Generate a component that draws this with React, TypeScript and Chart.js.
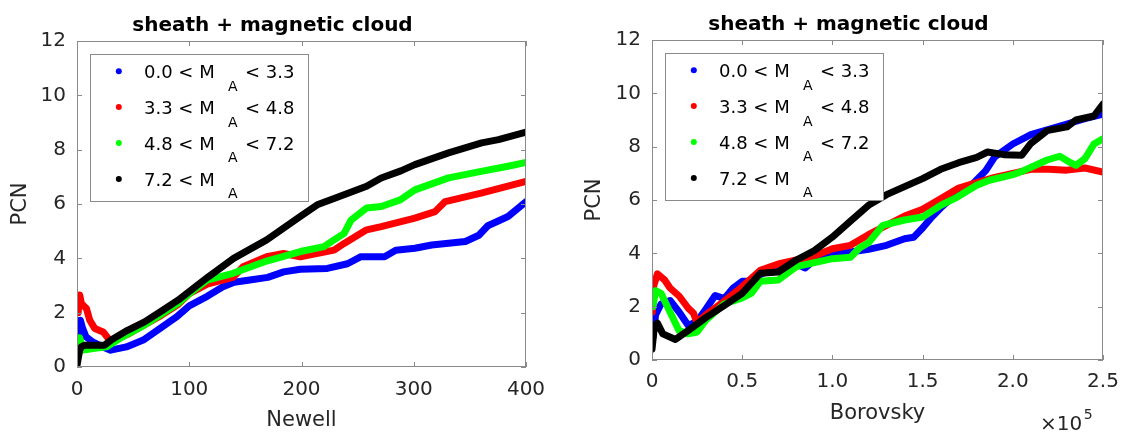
import React, { useEffect, useRef } from 'react';
import { Chart, registerables } from 'chart.js';
Chart.register(...registerables);

const FONT = '"DejaVu Sans", sans-serif';
const AXIS_COLOR = '#8a8a8a';
const TEXT_COLOR = '#262626';

const chartTitle = 'sheath + magnetic cloud';
const yAxisLabel = 'PCN';
const legendMain = ['0.0 < M', '3.3 < M', '4.8 < M', '7.2 < M'];
const legendSub = 'A';
const legendTail = ['< 3.3', '< 4.8', '< 7.2', ''];
const seriesColors = ['#0000ff', '#ff0000', '#00ff00', '#000000'];

// ---- Left panel: Newell ----
const newellBlueX = [1, 3, 5, 8, 14, 23, 30, 44, 59, 75, 89, 100, 116, 130, 140, 154, 170, 184, 199, 223, 241, 253, 274, 284, 301, 316, 346, 358, 366, 384, 400];
const newellBlueY = [1.0, 1.72, 1.42, 1.11, 0.92, 0.74, 0.62, 0.74, 0.99, 1.45, 1.85, 2.25, 2.6, 2.95, 3.12, 3.2, 3.3, 3.5, 3.6, 3.63, 3.8, 4.06, 4.06, 4.3, 4.37, 4.49, 4.62, 4.85, 5.2, 5.54, 6.08];
const newellRedX = [1, 2.4, 4, 8.4, 11.4, 15.8, 23.3, 27.8, 32, 45, 60, 75, 90, 100, 116, 139, 148, 169, 184, 199, 229, 238, 258, 271, 301, 319, 328, 360, 400];
const newellRedY = [2.0, 2.65, 2.33, 2.15, 1.72, 1.42, 1.29, 1.05, 0.95, 1.2, 1.55, 1.9, 2.3, 2.7, 3.05, 3.3, 3.69, 4.06, 4.18, 4.06, 4.3, 4.55, 5.05, 5.17, 5.48, 5.72, 6.09, 6.4, 6.83];
const newellGreenX = [0.5, 2.4, 5.4, 14.3, 26.5, 40, 60, 90, 100, 116, 139, 169, 199, 220, 229, 238, 244, 258, 271, 288, 301, 331, 360, 384, 400];
const newellGreenY = [0.4, 1.08, 0.62, 0.68, 0.74, 1.1, 1.54, 2.34, 2.7, 3.2, 3.45, 3.9, 4.25, 4.43, 4.68, 4.92, 5.4, 5.85, 5.91, 6.15, 6.52, 6.96, 7.2, 7.39, 7.53];
const newellBlackX = [0, 2.4, 3.9, 6.5, 15, 24.4, 30.4, 45, 60.2, 75, 90, 100, 117, 139.5, 169, 199, 214, 229, 258, 271, 288.5, 301, 331, 360.5, 375.5, 400];
const newellBlackY = [0.06, 0.62, 0.74, 0.8, 0.8, 0.8, 0.99, 1.35, 1.66, 2.05, 2.46, 2.78, 3.32, 4.0, 4.68, 5.54, 5.97, 6.2, 6.65, 6.96, 7.22, 7.45, 7.88, 8.25, 8.37, 8.65];

// ---- Right panel: Borovsky (x in units of 10^5) ----
const borovskyBlueX = [0.005, 0.02, 0.05, 0.1, 0.15, 0.2, 0.25, 0.3, 0.35, 0.4, 0.45, 0.5, 0.55, 0.6, 0.7, 0.8, 0.85, 0.9, 1.0, 1.1, 1.2, 1.3, 1.4, 1.45, 1.5, 1.55, 1.6, 1.7, 1.78, 1.85, 1.9, 2.0, 2.1, 2.2, 2.3, 2.4, 2.5];
const borovskyBlueY = [0.85, 1.7, 2.1, 2.23, 1.8, 1.3, 1.45, 1.92, 2.42, 2.3, 2.7, 2.95, 2.95, 3.2, 3.5, 3.6, 3.45, 3.75, 3.98, 4.05, 4.15, 4.3, 4.55, 4.6, 4.95, 5.35, 5.7, 6.3, 6.62, 7.1, 7.62, 8.1, 8.45, 8.65, 8.85, 9.05, 9.22];
const borovskyRedX = [0.002, 0.01, 0.03, 0.07, 0.1, 0.15, 0.2, 0.23, 0.25, 0.3, 0.4, 0.5, 0.6, 0.7, 0.8, 0.9, 1.0, 1.1, 1.2, 1.3, 1.4, 1.5, 1.6, 1.7, 1.8, 1.9, 2.0, 2.1, 2.2, 2.3, 2.4, 2.5];
const borovskyRedY = [1.8, 2.8, 3.23, 3.0, 2.7, 2.4, 1.95, 1.75, 1.4, 1.7, 2.2, 2.75, 3.36, 3.6, 3.75, 3.9, 4.17, 4.3, 4.7, 5.05, 5.4, 5.65, 6.05, 6.45, 6.65, 6.85, 7.0, 7.15, 7.15, 7.12, 7.2, 7.05];
const borovskyGreenX = [0.005, 0.02, 0.05, 0.1, 0.15, 0.2, 0.25, 0.3, 0.4, 0.5, 0.55, 0.6, 0.7, 0.8, 0.9, 1.0, 1.1, 1.15, 1.2, 1.28, 1.4, 1.5, 1.6, 1.69, 1.8, 1.87, 2.0, 2.06, 2.19, 2.26, 2.32, 2.35, 2.4, 2.45, 2.5];
const borovskyGreenY = [2.0, 2.6, 2.5, 1.8, 1.1, 0.98, 1.05, 1.5, 2.1, 2.33, 2.5, 2.95, 3.0, 3.5, 3.65, 3.8, 3.85, 4.2, 4.4, 5.05, 5.25, 5.36, 5.8, 6.1, 6.55, 6.74, 6.95, 7.1, 7.5, 7.64, 7.4, 7.3, 7.55, 8.1, 8.3];
const borovskyBlackX = [0, 0.014, 0.03, 0.06, 0.13, 0.2, 0.3, 0.4, 0.5, 0.6, 0.7, 0.8, 0.9, 1.0, 1.1, 1.2, 1.3, 1.4, 1.5, 1.6, 1.7, 1.8, 1.86, 1.95, 2.05, 2.1, 2.19, 2.3, 2.35, 2.45, 2.5];
const borovskyBlackY = [0.41, 1.29, 1.38, 0.98, 0.77, 1.1, 1.6, 2.04, 2.5, 3.25, 3.3, 3.75, 4.1, 4.61, 5.21, 5.8, 6.2, 6.5, 6.8, 7.15, 7.4, 7.6, 7.8, 7.7, 7.68, 8.12, 8.6, 8.74, 9.0, 9.15, 9.6];

const yMin = 0;
const yMax = 12;
const yStep = 2;

type Panel = {
  xs: number[][];
  ys: number[][];
  xMax: number;
  xStep: number;
  xLabel: string;
  exponent: string;
  canvasLeft: number;
  canvasWidth: number;
  yAxisWidth: number;
  xAxisHeight: number;
  padRight: number;
  padTop: number;
  yTitlePad: number;
  xTitlePad: number;
  xTickPad: number;
};

const panels: Panel[] = [
  {
    xs: [newellBlueX, newellRedX, newellGreenX, newellBlackX],
    ys: [newellBlueY, newellRedY, newellGreenY, newellBlackY],
    xMax: 400, xStep: 100, xLabel: 'Newell', exponent: '',
    canvasLeft: 0, canvasWidth: 560,
    yAxisWidth: 77, xAxisHeight: 66, padRight: 34, padTop: 41,
    yTitlePad: 8, xTitlePad: 0, xTickPad: 11,
  },
  {
    xs: [borovskyBlueX, borovskyRedX, borovskyGreenX, borovskyBlackX],
    ys: [borovskyBlueY, borovskyRedY, borovskyGreenY, borovskyBlackY],
    xMax: 2.5, xStep: 0.5, xLabel: 'Borovsky', exponent: '5',
    canvasLeft: 560, canvasWidth: 570,
    yAxisWidth: 92, xAxisHeight: 73, padRight: 27, padTop: 40,
    yTitlePad: 22, xTitlePad: 7, xTickPad: 10,
  },
];

function makeDecor(panel: Panel) {
  return {
    id: 'decor',
    afterDatasetsDraw(chart: any) {
      const { ctx, chartArea: a, scales } = chart;
      ctx.save();
      // frame
      ctx.strokeStyle = AXIS_COLOR;
      ctx.lineWidth = 1;
      ctx.strokeRect(a.left + 0.5, a.top + 0.5, a.right - a.left - 1, a.bottom - a.top - 1);
      // inward ticks
      const tl = 5;
      ctx.beginPath();
      scales.x.ticks.forEach((t: any) => {
        const px = Math.round(scales.x.getPixelForValue(t.value)) + 0.5;
        ctx.moveTo(px, a.bottom); ctx.lineTo(px, a.bottom - tl);
        ctx.moveTo(px, a.top); ctx.lineTo(px, a.top + tl);
      });
      scales.y.ticks.forEach((t: any) => {
        const py = Math.round(scales.y.getPixelForValue(t.value)) + 0.5;
        ctx.moveTo(a.left, py); ctx.lineTo(a.left + tl, py);
        ctx.moveTo(a.right, py); ctx.lineTo(a.right - tl, py);
      });
      ctx.stroke();

      // title
      ctx.fillStyle = '#000';
      ctx.font = `bold 20px ${FONT}`;
      ctx.textAlign = 'center';
      ctx.textBaseline = 'alphabetic';
      ctx.fillText(chartTitle, (a.left + a.right) / 2 - 29, a.top - 10.5);

      // exponent
      if (panel.exponent) {
        ctx.fillStyle = TEXT_COLOR;
        ctx.textAlign = 'left';
        ctx.font = `20px ${FONT}`;
        const ex = a.right - 63;
        ctx.fillText('\u00d710', ex, a.bottom + 70);
        const w = ctx.measureText('\u00d710').width;
        ctx.font = `14px ${FONT}`;
        ctx.fillText(panel.exponent, ex + w + 1.5, a.bottom + 59);
      }

      // legend
      const bx = Math.round(a.left + 13) + 0.5;
      const by = Math.round(a.top + 13) + 0.5;
      const bw = 218;
      const bh = 147;
      ctx.fillStyle = '#fff';
      ctx.fillRect(bx, by, bw, bh);
      ctx.strokeStyle = AXIS_COLOR;
      ctx.strokeRect(bx, by, bw, bh);
      for (let i = 0; i < legendMain.length; i++) {
        const cy = by + 16.7 + i * 35.9;
        ctx.fillStyle = seriesColors[i];
        ctx.beginPath();
        ctx.arc(bx + 28.3, cy, 3, 0, Math.PI * 2);
        ctx.fill();
        ctx.fillStyle = '#000';
        ctx.textAlign = 'left';
        ctx.font = `18px ${FONT}`;
        ctx.fillText(legendMain[i], bx + 53.5, cy + 6.6);
        ctx.font = `14px ${FONT}`;
        ctx.fillText(legendSub, bx + 137.5, cy + 14.3 + 5.1);
        if (legendTail[i]) {
          ctx.font = `18px ${FONT}`;
          ctx.fillText(legendTail[i], bx + 154.5, cy + 6.6);
        }
      }
      ctx.restore();
    },
  };
}

function PanelChart({ panel }: { panel: Panel }) {
  const ref = useRef<HTMLCanvasElement | null>(null);
  useEffect(() => {
    if (!ref.current) return;
    const datasets = panel.xs.map((xs, i) => ({
      label: legendMain[i],
      data: xs.map((x, j) => ({ x, y: panel.ys[i][j] })),
      showLine: true,
      borderColor: seriesColors[i],
      backgroundColor: seriesColors[i],
      borderWidth: 7,
      pointRadius: 0,
      tension: 0,
      borderJoinStyle: 'round' as const,
      borderCapStyle: 'round' as const,
      order: 4 - i,
    }));
    const chart = new Chart(ref.current, {
      type: 'scatter',
      data: { datasets },
      options: {
        animation: false,
        responsive: false,
        maintainAspectRatio: false,
        layout: { padding: { left: 0, right: panel.padRight, top: panel.padTop, bottom: 0 } },
        plugins: {
          legend: { display: false },
          tooltip: { enabled: false },
          title: { display: false },
        },
        scales: {
          x: {
            type: 'linear',
            min: 0,
            max: panel.xMax,
            border: { display: false },
            grid: { display: false, drawTicks: false },
            ticks: {
              stepSize: panel.xStep,
              padding: panel.xTickPad,
              color: TEXT_COLOR,
              font: { family: FONT, size: 20 },
              maxRotation: 0,
              autoSkip: false,
            },
            title: {
              display: true,
              text: panel.xLabel,
              color: TEXT_COLOR,
              font: { family: FONT, size: 21 },
              padding: { top: 0, bottom: panel.xTitlePad },
            },
            afterFit: (s: any) => { s.height = panel.xAxisHeight; },
          },
          y: {
            type: 'linear',
            min: yMin,
            max: yMax,
            border: { display: false },
            grid: { display: false, drawTicks: false },
            ticks: {
              stepSize: yStep,
              padding: 11,
              color: TEXT_COLOR,
              font: { family: FONT, size: 20 },
            },
            title: {
              display: true,
              text: yAxisLabel,
              color: TEXT_COLOR,
              font: { family: FONT, size: 21 },
              padding: { top: panel.yTitlePad, bottom: 0 },
            },
            afterFit: (s: any) => { s.width = panel.yAxisWidth; },
          },
        },
      },
      plugins: [makeDecor(panel)],
    } as any);
    return () => chart.destroy();
  }, [panel]);
  return (
    <canvas
      ref={ref}
      width={panel.canvasWidth}
      height={433}
      style={{ position: 'absolute', left: panel.canvasLeft, top: 0, width: panel.canvasWidth, height: 433 }}
    />
  );
}

export default function App() {
  return (
    <div style={{ position: 'fixed', left: 0, top: 0, width: 1130, height: 433, background: '#fff' }}>
      {panels.map((p, i) => (
        <PanelChart key={i} panel={p} />
      ))}
    </div>
  );
}
